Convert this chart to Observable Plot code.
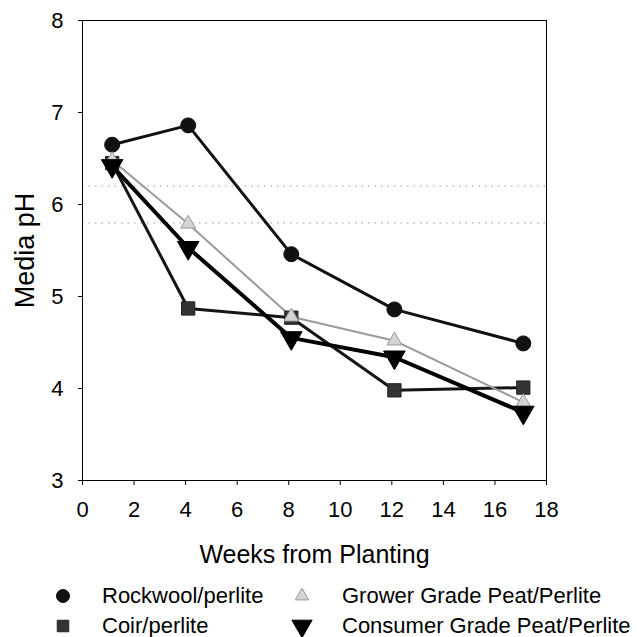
<!DOCTYPE html>
<html><head><meta charset="utf-8">
<script src="https://cdn.jsdelivr.net/npm/d3@7"></script>
<script src="https://cdn.jsdelivr.net/npm/@observablehq/plot@0.6"></script>
<style>
html,body{margin:0;padding:0;background:#fff;}
body{font-family:"Liberation Sans",Arial,sans-serif;color:#000;width:637px;height:637px;position:relative;overflow:hidden;}
#chart svg{display:block;font-family:"Liberation Sans",Arial,sans-serif;}
#chart g[aria-label="y-axis label"] text{font-size:27px;}
#chart g[aria-label="x-axis label"] text{font-size:25px;}
#chart g[aria-label="y-axis tick label"] text,
#chart g[aria-label="x-axis tick label"] text{font-size:22px;}
#legend{position:absolute;left:0;top:575px;width:637px;height:62px;font-size:22px;}
.item{position:absolute;height:22px;line-height:22px;white-space:nowrap;}
.item svg{position:absolute;top:0;}
</style></head>
<body><div id="chart"></div><div id="legend"></div>
<script>
const weeks = [1.15, 4.1, 8.1, 12.1, 17.1];
const seriesNames = ["Rockwool/perlite", "Coir/perlite", "Grower Grade Peat/Perlite", "Consumer Grade Peat/Perlite"];
const rockwool = [6.65, 6.86, 5.46, 4.86, 4.49];
const coir = [6.45, 4.87, 4.77, 3.98, 4.01];
const grower = [6.48, 5.79, 4.78, 4.52, 3.85];
const consumer = [6.42, 5.53, 4.55, 4.34, 3.74];
const yTicks = [3, 4, 5, 6, 7, 8];
const xTicks = [0, 2, 4, 6, 8, 10, 12, 14, 16, 18];
const refLines = [6.2, 5.8];

const styles = [
  {symbol: "circle", r: 7.5, lr: 6.5, fill: "#111", stroke: "#111", line: "#111", lw: 3},
  {symbol: "square", r: 7.5, lr: 6.5, fill: "#333", stroke: "#222", line: "#151515", lw: 3},
  {symbol: "triangle", r: 5.5, lr: 5, fill: "#d4d4d4", stroke: "#999", line: "#9a9a9a", lw: 2, rotate: 0},
  {symbol: "triangle", r: 8, lr: 7.5, fill: "#000", stroke: "#000", line: "#000", lw: 4, rotate: 180}
];
const values = [rockwool, coir, grower, consumer];
const tables = values.map((vals, i) => vals.map((v, j) => ({week: weeks[j], ph: v, series: seriesNames[i]})));

const marks = [
  Plot.ruleY(refLines, {stroke: "#999", strokeWidth: 1, strokeDasharray: "1.5,5"}),
  Plot.frame({stroke: "#000", strokeWidth: 1}),
  Plot.axisX(xTicks, {tickSize: 5, tickPadding: 16, fontSize: 22, tickFormat: d => String(d), label: "Weeks from Planting", labelAnchor: "center", labelArrow: "none", labelOffset: 82}),
  Plot.axisY(yTicks, {tickSize: 4, tickPadding: 15, fontSize: 22, tickFormat: d => String(d), label: "Media pH", labelAnchor: "center", labelArrow: "none", labelOffset: 68})
];
const order = [0, 1, 2, 3];
order.forEach(i => {
  const s = styles[i];
  marks.push(Plot.line(tables[i], {x: "week", y: "ph", stroke: s.line, strokeWidth: s.lw}));
});
order.forEach(i => {
  const s = styles[i];
  marks.push(Plot.dot(tables[i], {x: "week", y: "ph", symbol: () => s.symbol, r: s.r, fill: s.fill, stroke: s.stroke, strokeWidth: 1, rotate: s.rotate || 0}));
});

const chart = Plot.plot({
  width: 637, height: 575,
  marginLeft: 82, marginRight: 91, marginTop: 20, marginBottom: 95,
  x: {domain: [0, 18]},
  y: {domain: [3, 8]},
  marks
});
document.getElementById("chart").append(chart);

// legend
const legendPos = [
  {sx: 63, tx: 102, row: 0},
  {sx: 63, tx: 102, row: 1},
  {sx: 302, tx: 342, row: 0},
  {sx: 302, tx: 342, row: 1}
];
const symMap = {circle: d3.symbolCircle, square: d3.symbolSquare, triangle: d3.symbolTriangle};
const legend = document.getElementById("legend");
seriesNames.forEach((name, i) => {
  const s = styles[i], p = legendPos[i];
  const item = document.createElement("div");
  item.className = "item";
  item.style.left = "0px";
  item.style.top = (10 + p.row * 30) + "px";
  item.style.width = "637px";
  const size = Math.PI * s.lr * s.lr;
  const path = d3.symbol(symMap[s.symbol], size)();
  const svg = `<svg width="30" height="22" style="left:${p.sx - 15}px"><path d="${path}" transform="translate(15,11) rotate(${s.rotate || 0})" fill="${s.fill}" stroke="${s.stroke}" stroke-width="1"/></svg>`;
  item.innerHTML = svg + `<span style="position:absolute;left:${p.tx}px;">${name}</span>`;
  legend.append(item);
});
</script>
</body></html>
